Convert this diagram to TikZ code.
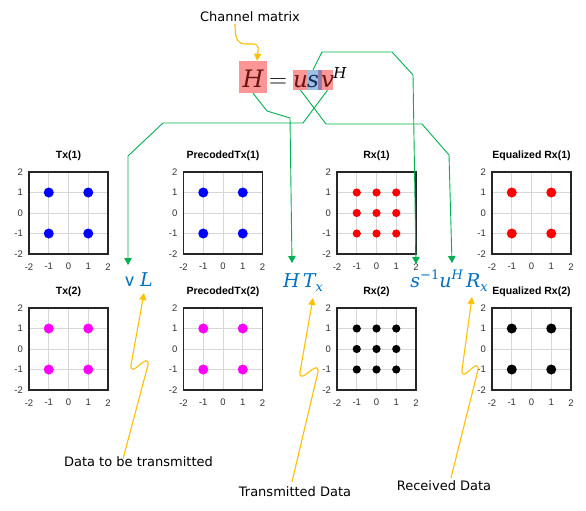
\documentclass[tikz,border=0pt]{standalone}
\usepackage{fontspec}
\setmainfont{DejaVu Sans}
\newfontfamily\plotfont{Liberation Sans}
\newfontfamily\califont{Carlito}
\newfontfamily\dvserif{DejaVu Serif}
\newcommand{\myit}{\dvserif\itshape}
\newcommand{\mysub}[1]{\raisebox{-4.5pt}{\fontsize{13}{13}\selectfont\myit #1}}
\newcommand{\mysup}[1]{\raisebox{8pt}{\fontsize{13}{13}\selectfont #1}}
\usetikzlibrary{arrows.meta,calc}
\definecolor{gline}{RGB}{0,176,80}
\definecolor{oline}{RGB}{255,192,0}
\definecolor{mblue}{RGB}{0,112,192}
\definecolor{pinkb}{RGB}{250,150,150}
\definecolor{blueb}{RGB}{155,194,230}
\definecolor{purpb}{RGB}{150,125,165}
\definecolor{gridc}{RGB}{215,215,215}
\definecolor{axc}{RGB}{38,38,38}
\definecolor{tickc}{RGB}{50,50,50}
\definecolor{eqred}{RGB}{105,20,20}
\definecolor{eqnavy}{RGB}{20,50,85}
\definecolor{mag}{RGB}{255,0,255}
\tikzset{
 gridline/.style={draw=gridc, line width=0.6pt},
 axbox/.style={draw=axc, line width=1.1pt},
 ticklab/.style={font=\plotfont\fontsize{9.5}{11}\selectfont, text=tickc, inner sep=0pt},
 ptitle/.style={font=\plotfont\bfseries\fontsize{10.5}{12}\selectfont, inner sep=0pt},
 gconn/.style={draw=gline, line width=0.9pt, -{Triangle[width=7.5pt,length=7pt]}},
 oconn/.style={draw=oline, line width=1.1pt, -{Triangle[width=7pt,length=7pt]}},
 annot/.style={font=\fontsize{13}{15}\selectfont, inner sep=0pt},
 mlab/.style={text=mblue, font=\fontsize{19}{22}\selectfont, inner sep=0pt, anchor=base},
 eqbox/.style={inner sep=0pt, draw=none},
 eqsym/.style={inner sep=0pt, anchor=base, font=\fontsize{23}{28}\selectfont\myit},
}
\newcommand{\scatplot}[7]{%
\begin{scope}[shift={(#1,#2)},x=19.75pt,y=20.5pt]
\foreach \tk in {-1,0,1}{\draw[gridline] (\tk,-2) -- (\tk,2); \draw[gridline] (-2,\tk) -- (2,\tk);}
\foreach \px/\py in {#6}{\fill[#5] (\px,\py) circle (#7);}
\draw[axbox] (-2,-2) rectangle (2,2);
\foreach \tk in {-2,-1,0,1,2}{\node[ticklab,anchor=east] at (-2.3,\tk) {\tk}; \node[ticklab] at (\tk,-2.62) {\tk};}
\node[ptitle] (#3) at (0,2.78) {#4};
\end{scope}}
\begin{document}
\begin{tikzpicture}[x=1pt,y=-1pt]
\useasboundingbox (0,0) rectangle (586,511);
\fill[white] (0,0) rectangle (586,511);

% plots
\scatplot{68.5}{213}{t1}{Tx(1)}{blue}{-1/-1,-1/1,1/-1,1/1}{5pt}
\scatplot{223}{213}{p1}{PrecodedTx(1)}{blue}{-1/-1,-1/1,1/-1,1/1}{5pt}
\scatplot{376.5}{213}{r1}{Rx(1)}{red}{-1/-1,-1/0,-1/1,0/-1,0/0,0/1,1/-1,1/0,1/1}{4.1pt}
\scatplot{531.5}{213}{e1}{Equalized Rx(1)}{red}{-1/-1,-1/1,1/-1,1/1}{5pt}
\scatplot{68.5}{349}{t2}{Tx(2)}{mag}{-1/-1,-1/1,1/-1,1/1}{5pt}
\scatplot{223}{349}{p2}{PrecodedTx(2)}{mag}{-1/-1,-1/1,1/-1,1/1}{5pt}
\scatplot{376.5}{349}{r2}{Rx(2)}{black}{-1/-1,-1/0,-1/1,0/-1,0/0,0/1,1/-1,1/0,1/1}{4.1pt}
\scatplot{531.5}{349}{e2}{Equalized Rx(2)}{black}{-1/-1,-1/1,1/-1,1/1}{5pt}

% equation
\node[eqbox, fill=pinkb, minimum width=28pt, minimum height=32pt] (Hbox) at (253,77) {};
\node[eqbox, fill=pinkb, minimum width=15pt, minimum height=20pt] (ubox) at (300.5,80) {};
\node[eqbox, fill=blueb, minimum width=10pt, minimum height=20pt] (sbox) at (313,80) {};
\node[eqbox, fill=purpb, minimum width=4pt, minimum height=20pt] (obox) at (320,80) {};
\node[eqbox, fill=pinkb, minimum width=11pt, minimum height=20pt] (vbox) at (327.5,80) {};
\node[eqsym, text=eqred, font=\fontsize{24}{28}\selectfont\myit] (Hs) at (253,87) {H};
\node[inner sep=0pt, anchor=base, font=\fontsize{25}{28}\selectfont] (eq) at (278,87) {$=$};
\node[eqsym, text=eqred] (us) at (300.5,87) {u};
\node[eqsym, text=eqnavy] (ss) at (313,87) {s};
\node[eqsym, text=eqred] (vs) at (327.5,87) {v};
\node[inner sep=0pt, anchor=base, font=\fontsize{15}{17}\selectfont\myit] (sup) at (340,78) {H};

\node[annot] (CM) at (250,17) {Channel matrix};

% blue labels
\node[mlab] (vL) at (139,286) {{\califont\fontsize{20}{22}\selectfont v}\hspace{6pt}{\myit L}};
\node[mlab] (HT) at (303,287) {{\myit H\,T}\mysub{x}};
\node[mlab] (SU) at (449,287) {{\myit s}\mysup{\dvserif −1}{\myit u}\mysup{\myit H}\,{\myit R}\mysub{x}};

\coordinate (vLa) at (128,265);
\coordinate (HTa) at (292,263);
\coordinate (sIa) at (416,264);
\coordinate (uHa) at (452,263);

% green connectors
\draw[gconn] (Hbox.south) -- (267,111) -- (290,118) -- (HTa);
\draw[gconn] (ubox.south) -- (326,124) -- (422,124) -- (449,155) -- (uHa);
\draw[gconn] (vbox.south) -- (303,123) -- (163,123) -- (128,156) -- (vLa);
\draw[gconn] (sbox.north) -- (322,52) -- (392,52) -- (413,75) -- (sIa);

% bottom labels
\node[annot] (D1) at (138.5,462) {Data to be transmitted};
\node[annot] (D2) at (295,492) {Transmitted Data};
\node[annot] (D3) at (444,486) {Received Data};

\coordinate (vLo) at (144,293);
\coordinate (HTo) at (313,298);
\coordinate (SUo) at (472,297);

% orange connectors
\draw[oconn] ($(CM.south)+(-15,2)$) .. controls (235,40) and (238,44) .. (246,44) -- (253,44) .. controls (260,44) and (258,50) .. ($(Hbox.north)+(4,0)$);
\draw[oconn] ($(D1.north)+(-15.5,2)$) -- (148,365) .. controls (149,350) and (130,380) .. (131,365) -- (vLo);
\draw[oconn] ($(D2.north)+(-3,-5)$) -- (318,372) .. controls (319,357) and (299,387) .. (300,372) -- (HTo);
\draw[oconn] ($(D3.north)+(7,-3)$) -- (478,370) .. controls (479,355) and (461,385) .. (462,370) -- (SUo);
\end{tikzpicture}
\end{document}
